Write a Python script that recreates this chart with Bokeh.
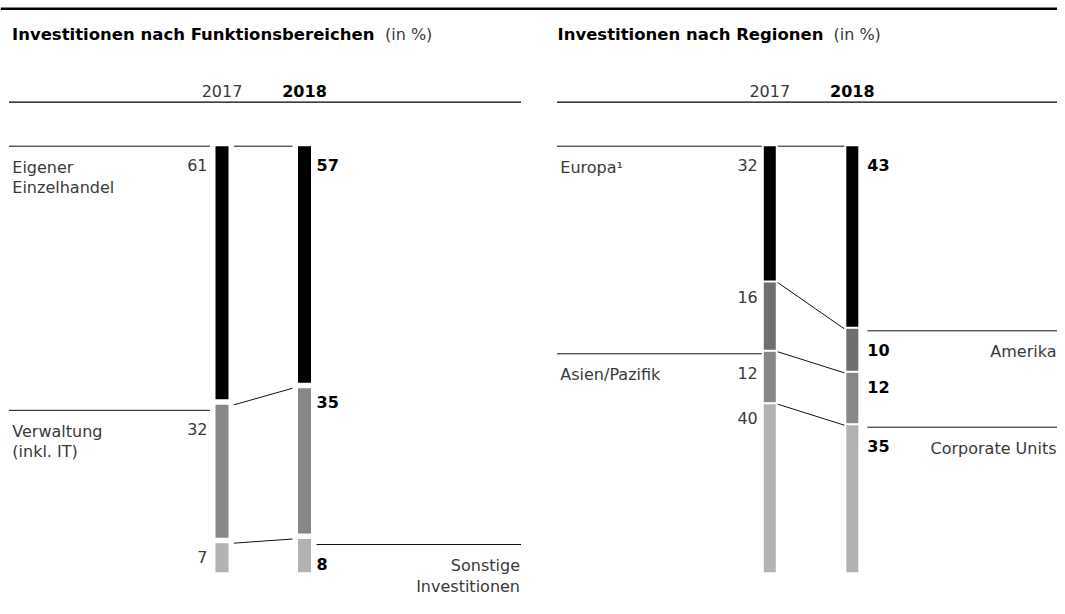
from bokeh.plotting import figure
from bokeh.models import Range1d
from bokeh.core.properties import value
from bokeh.embed import file_html
from bokeh.resources import INLINE

# ---------------- data ----------------
years = ["2017", "2018"]
unit_text = "(in %)"

func_title = "Investitionen nach Funktionsbereichen"
func_labels = [["Eigener", "Einzelhandel"], ["Verwaltung", "(inkl. IT)"], ["Sonstige", "Investitionen"]]
func_label_side = ["left", "left", "right"]
func_2017 = [61, 32, 7]
func_2018 = [57, 35, 8]

reg_title = "Investitionen nach Regionen"
reg_labels = [["Europa¹"], ["Amerika"], ["Asien/Pazifik"], ["Corporate Units"]]
reg_label_side = ["left", "right", "left", "right"]
reg_2017 = [32, 16, 12, 40]
reg_2018 = [43, 10, 12, 35]

# ---------------- style / layout ----------------
FONT = value("DejaVu Sans")
FS = "16px"
TFS = "16.5px"
TXT = "#3a3a3a"
W, H = 1057, 606
BAR_TOP = 145.7            # page y of the 0 % line

panels = [
    dict(name="L", title=func_title, labels=func_labels, side=func_label_side,
         v17=func_2017, v18=func_2018,
         colors=["#000000", "#878787", "#b2b2b2"],
         left=8.5, right=519.5, title_x=11.5, unit_x=384.5,
         c17=221.5, c18=304.0, bw=13, gap=5.5, scale=4.15, pad17=8, pad18=5.5),
    dict(name="R", title=reg_title, labels=reg_labels, side=reg_label_side,
         v17=reg_2017, v18=reg_2018,
         colors=["#000000", "#6f6f6f", "#878787", "#b2b2b2"],
         left=556.5, right=1056.0, title_x=557.0, unit_x=833.0,
         c17=769.3, c18=851.8, bw=12, gap=2.0, scale=4.2, pad17=6, pad18=9),
]

p = figure(width=W, height=H, x_range=Range1d(0, W), y_range=Range1d(H, 0),
           x_axis_type=None, y_axis_type=None, output_backend="svg",
           toolbar_location=None, min_border=0)
p.grid.visible = False
p.outline_line_color = None
p.background_fill_color = "white"

# extra percent scales (0 % at bar top, increasing downwards)
for pn in panels:
    s = pn["scale"]
    p.extra_y_ranges[pn["name"]] = Range1d((H - BAR_TOP) / s, (0 - BAR_TOP) / s)

# thick rule on top
p.segment(x0=[0], y0=[8.3], x1=[W], y1=[8.3], line_color="black", line_width=2.5)


def stack(vals, gap):
    tops, bots, cur = [], [], 0.0
    for i, v in enumerate(vals):
        if i > 0:
            cur += gap
        tops.append(cur)
        cur += v
        bots.append(cur)
    return tops, bots


for pn in panels:
    rn = pn["name"]
    g = pn["gap"] / pn["scale"]
    n = len(pn["v17"])
    t17, b17 = stack(pn["v17"], g)
    t18, b18 = stack(pn["v18"], g)
    l17, r17 = pn["c17"] - pn["bw"] / 2, pn["c17"] + pn["bw"] / 2
    l18, r18 = pn["c18"] - pn["bw"] / 2, pn["c18"] + pn["bw"] / 2

    # titles
    p.text(x=[pn["title_x"]], y=[33.5], text=[pn["title"]], text_font=FONT, text_font_size=TFS,
           text_font_style="bold", text_color="black", text_align="left", text_baseline="alphabetic")
    p.text(x=[pn["unit_x"]], y=[33.5], text=[unit_text], text_font=FONT, text_font_size=FS,
           text_color=TXT, text_align="left", text_baseline="alphabetic")
    # years
    p.text(x=[pn["c17"]], y=[90], text=[years[0]], text_font=FONT, text_font_size=FS,
           text_color=TXT, text_align="center", text_baseline="alphabetic")
    p.text(x=[pn["c18"]], y=[90], text=[years[1]], text_font=FONT, text_font_size=FS,
           text_font_style="bold", text_color="black", text_align="center", text_baseline="alphabetic")
    p.segment(x0=[pn["left"]], y0=[101.7], x1=[pn["right"] + 1], y1=[101.7], line_color="black", line_width=1.2)

    # bars
    p.vbar(x=[pn["c17"]] * n, width=pn["bw"], top=t17, bottom=b17, fill_color=pn["colors"],
           line_color=None, y_range_name=rn)
    p.vbar(x=[pn["c18"]] * n, width=pn["bw"], top=t18, bottom=b18, fill_color=pn["colors"],
           line_color=None, y_range_name=rn)

    # connectors
    cx0, cx1 = r17 + pn["gap"], l18 - pn["gap"]
    p.segment(x0=[cx0] * n, y0=t17, x1=[cx1] * n, y1=t18, line_color="#111111",
              line_width=1, y_range_name=rn)

    # category labels + lines
    for i in range(n):
        side = pn["side"][i]
        if side == "left":
            ly = t17[i] + (g if i > 0 else 0)
            p.segment(x0=[pn["left"]], y0=[ly], x1=[l17 - pn["gap"]], y1=[ly],
                      line_color="#111111", line_width=1, y_range_name=rn)
            lx, al = pn["left"] + 3.3, "left"
        else:
            ly = t18[i] + g
            p.segment(x0=[r18 + pn["pad18"]], y0=[ly], x1=[pn["right"] + 1], y1=[ly],
                      line_color="#111111", line_width=1, y_range_name=rn)
            lx, al = pn["right"], "right"
        lines = pn["labels"][i]
        p.text(x=[lx] * len(lines), y=[ly] * len(lines), text=lines,
               y_offset=[21 + 20.5 * j for j in range(len(lines))],
               text_font=FONT, text_font_size=FS, text_color=TXT, text_align=al,
               text_baseline="alphabetic", y_range_name=rn)

        # value labels
        has17 = (side == "left") or i == 0
        y17 = t17[i] + (g if (side == "left" and i > 0) else 0)
        p.text(x=[l17 - pn["pad17"]], y=[y17], text=[str(pn["v17"][i])],
               y_offset=[19 if has17 else 14],
               text_font=FONT, text_font_size=FS, text_color=TXT, text_align="right",
               text_baseline="alphabetic", y_range_name=rn)
        has18 = (side == "right") or i == 0
        y18 = t18[i] + (g if (side == "right" and i > 0) else 0)
        p.text(x=[r18 + pn["pad18"]], y=[y18], text=[str(pn["v18"][i])],
               y_offset=[19 if has18 else 14],
               text_font=FONT, text_font_size=FS, text_font_style="bold", text_color="black",
               text_align="left", text_baseline="alphabetic", y_range_name=rn)

open("out.html", "w").write(file_html(p, INLINE))
